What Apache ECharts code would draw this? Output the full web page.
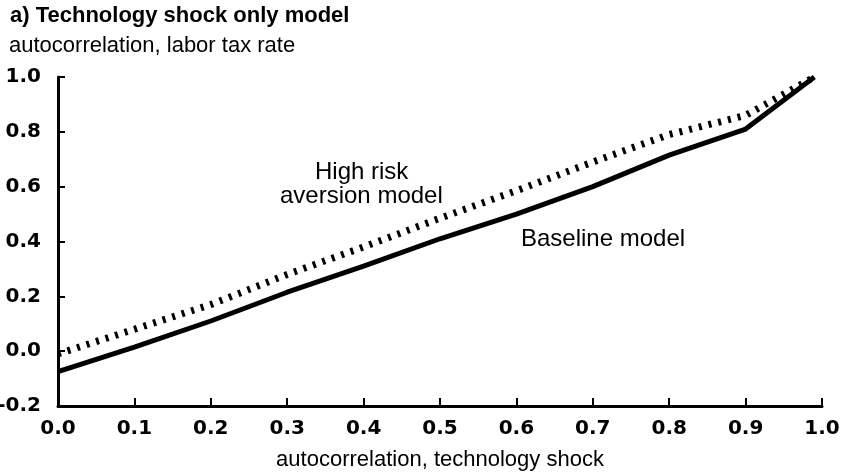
<!DOCTYPE html>
<html><head><meta charset="utf-8">
<script src="https://cdn.jsdelivr.net/npm/echarts@6/dist/echarts.min.js"></script>
<style>html,body{margin:0;padding:0;background:#fff}#c{width:846px;height:472px}</style>
</head><body><div id="c"></div>
<script>
var xValues = [0.0, 0.1, 0.2, 0.3, 0.4, 0.5, 0.6, 0.7, 0.8, 0.9, 0.99];
var baseline = [-0.075, 0.015, 0.11, 0.215, 0.31, 0.41, 0.50, 0.60, 0.715, 0.81, 1.0];
var highRisk = [-0.01, 0.08, 0.17, 0.28, 0.38, 0.485, 0.585, 0.69, 0.79, 0.86, 1.0];
var titleText = "a) Technology shock only model";
var yName = "autocorrelation, labor tax rate";
var xName = "autocorrelation, technology shock";

function pairs(xs, ys){ return xs.map(function(x,i){return [x, ys[i]];}); }
var font = "Liberation Sans, Arial, Helvetica, sans-serif";
var tickFont = "DejaVu Sans, Liberation Sans, sans-serif";
var chart = echarts.init(document.getElementById('c'));
chart.setOption({
  animation:false,
  backgroundColor:'#fff',
  title:{text:titleText,left:5,top:0,textStyle:{fontFamily:font,fontWeight:'bold',fontSize:22,color:'#000'}},
  grid:{left:58,right:24,top:77,bottom:66,containLabel:false,outerBoundsMode:'none'},
  xAxis:{type:'value',min:0,max:1,interval:0.1,
    name:xName,nameLocation:'middle',nameGap:43,
    nameTextStyle:{fontFamily:font,fontSize:22,color:'#000'},
    axisLine:{onZero:false,lineStyle:{color:'#000',width:3}},
    axisTick:{inside:true,length:8,lineStyle:{color:'#000',width:2}},
    axisLabel:{fontFamily:tickFont,fontWeight:'bold',fontSize:20,color:'#000',margin:13,formatter:function(v){return v.toFixed(1);}},
    splitLine:{show:false}},
  yAxis:{type:'value',min:-0.2,max:1.0,interval:0.2,
    name:yName,nameLocation:'end',nameGap:20,
    nameTextStyle:{fontFamily:font,fontSize:22,color:'#000',align:'left',padding:[0,0,0,-49]},
    axisLine:{onZero:false,lineStyle:{color:'#000',width:3}},
    axisTick:{inside:true,length:7,lineStyle:{color:'#000',width:2}},
    axisLabel:{fontFamily:tickFont,fontWeight:'bold',fontSize:20,color:'#000',margin:17,formatter:function(v){return v.toFixed(1);}},
    splitLine:{show:false}},
  series:[
    {type:'line',data:pairs(xValues,baseline),symbol:'none',lineStyle:{color:'#000',width:5}},
    {type:'line',data:pairs(xValues,highRisk),symbol:'none',lineStyle:{color:'#000',width:7,type:[3,7],cap:'butt'}}
  ],
  graphic:[
    {type:'text',left:315,top:160,style:{text:'High risk',font:'24px '+font,fill:'#000'}},
    {type:'text',left:280,top:184,style:{text:'aversion model',font:'24px '+font,fill:'#000'}},
    {type:'text',left:521,top:227,style:{text:'Baseline model',font:'24px '+font,fill:'#000'}}
  ]
});
</script></body></html>
